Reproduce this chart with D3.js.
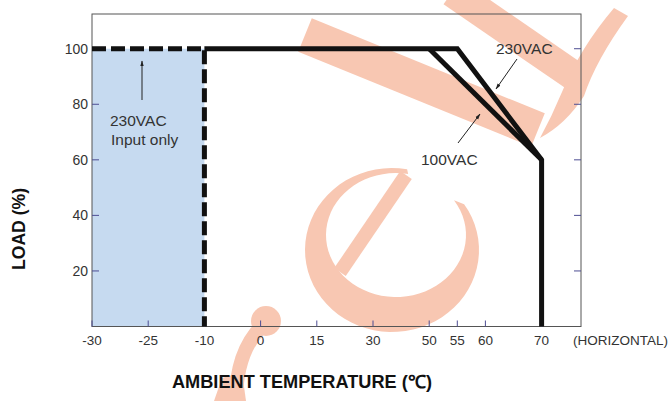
<!DOCTYPE html>
<html>
<head>
<meta charset="utf-8">
<script src="https://cdn.jsdelivr.net/npm/d3@7"></script>
<style>
  html, body { margin: 0; padding: 0; background: #fff; }
  svg { display: block; font-family: "Liberation Sans", Arial, sans-serif; }
</style>
</head>
<body>
<div id="chart"></div>
<script>
"use strict";

/* Derating curve data: load (%) vs ambient temperature (C) */

// x axis is not linear: each tick gets the same spacing, 55 sits between 50 and 60
const xTicks = [-30, -25, -10, 0, 15, 30, 50, 55, 60, 70];
const xSteps = [-30, -25, -10, 0, 15, 30, 50, 60, 70];
const yTicks = [20, 40, 60, 80, 100];

// curves as [temperature, load]
const curve230 = [[-10, 100], [55, 100], [70, 60], [70, 0]];
const curve100 = [[50, 100], [70, 60]];
const curveLowTemp = [[-30, 100], [-10, 100], [-10, 0]];  // 230VAC input only
const lowTempZone = [-30, -10];

const width = 670, height = 401;
const frame = { left: 92, top: 14, right: 581, bottom: 326.5 };

const svg = d3.select("#chart")
  .append("svg")
  .attr("width", width)
  .attr("height", height);

const x = d3.scaleLinear()
  .domain(xSteps)
  .range(xSteps.map((d, i) => frame.left + i * 56.2));

const y = d3.scaleLinear()
  .domain([0, 112.5])
  .range([frame.bottom, frame.top]);

const line = d3.line()
  .x(d => x(d[0]))
  .y(d => y(d[1]));

/* shaded low temperature area */
svg.append("rect")
  .attr("x", x(lowTempZone[0]))
  .attr("y", y(100))
  .attr("width", x(lowTempZone[1]) - x(lowTempZone[0]))
  .attr("height", y(0) - y(100))
  .attr("fill", "#c6daf0");

/* watermark (decoration only) */
const wmColor = "#f8c7b2";
const wm = svg.append("g").attr("fill", wmColor).attr("stroke", wmColor);

// letter "e": crescent bowl + slanted bar
function ellPts(cx, cy, rx, ry, a0, a1) {
  return d3.range(0, 61).map(i => {
    const a = (a0 + (a1 - a0) * i / 60) * Math.PI / 180;
    return [cx + rx * Math.cos(a), cy + ry * Math.sin(a)];
  });
}
const outer = ellPts(392, 250, 87, 82, -80, -394);
const inner = ellPts(396, 235, 70, 62, -394, -80);
wm.append("path")
  .attr("stroke", "none")
  .attr("d", d3.line()(outer.concat(inner)) + "Z");
wm.append("line")
  .attr("x1", 340).attr("y1", 272).attr("x2", 406).attr("y2", 175)
  .attr("stroke-width", 14);

// long slanted swash and the loop at upper right
wm.append("line")
  .attr("x1", 305).attr("y1", 35).attr("x2", 538).attr("y2", 130)
  .attr("stroke-width", 36);
wm.append("line")
  .attr("x1", 452).attr("y1", -8).attr("x2", 580).attr("y2", 80)
  .attr("stroke-width", 30);
wm.append("path")
  .attr("stroke", "none")
  .attr("d", "M614,8 L628,16 Q596,60 584,96 Q566,124 540,138 Q552,116 562,92 Q580,48 614,8 Z");

// curl at bottom
wm.append("circle").attr("cx", 266).attr("cy", 321).attr("r", 15).attr("stroke", "none");
wm.append("path")
  .attr("fill", "none")
  .attr("stroke-width", 14)
  .attr("d", "M262,326 Q236,352 236,401");
wm.append("path")
  .attr("stroke", "none")
  .attr("d", "M222,378 L242,372 L246,401 L214,401 Z");

/* frame */
svg.append("rect")
  .attr("x", frame.left)
  .attr("y", frame.top)
  .attr("width", frame.right - frame.left)
  .attr("height", frame.bottom - frame.top)
  .attr("fill", "none")
  .attr("stroke", "#555")
  .attr("stroke-width", 1);

/* ticks (inward) and labels */
const tickColor = "#4d4d92";

svg.append("g")
  .selectAll("line")
  .data(yTicks)
  .join("line")
  .attr("x1", frame.left).attr("x2", frame.left + 7)
  .attr("y1", d => y(d)).attr("y2", d => y(d))
  .attr("stroke", tickColor);

svg.append("g")
  .selectAll("line")
  .data(yTicks)
  .join("line")
  .attr("x1", frame.right - 7).attr("x2", frame.right)
  .attr("y1", d => y(d)).attr("y2", d => y(d))
  .attr("stroke", tickColor);

svg.append("g")
  .selectAll("text")
  .data(yTicks)
  .join("text")
  .attr("x", frame.left - 4)
  .attr("y", d => y(d))
  .attr("dy", "0.35em")
  .attr("text-anchor", "end")
  .attr("font-size", 14)
  .attr("fill", "#333")
  .text(d => d);

svg.append("g")
  .selectAll("line")
  .data(xTicks)
  .join("line")
  .attr("x1", d => x(d)).attr("x2", d => x(d))
  .attr("y1", frame.bottom).attr("y2", frame.bottom - 6)
  .attr("stroke", tickColor);

svg.append("g")
  .selectAll("text")
  .data(xTicks)
  .join("text")
  .attr("x", d => x(d))
  .attr("y", 345)
  .attr("text-anchor", "middle")
  .attr("font-size", 13.5)
  .attr("fill", "#333")
  .text(d => d);

svg.append("text")
  .attr("x", 573)
  .attr("y", 345)
  .attr("font-size", 13.5)
  .attr("fill", "#333")
  .attr("textLength", 95)
  .text("(HORIZONTAL)");

/* curves */
svg.append("path")
  .attr("d", line(curveLowTemp))
  .attr("fill", "none")
  .attr("stroke", "#111")
  .attr("stroke-width", 5)
  .attr("stroke-dasharray", "14,5");

svg.append("path")
  .attr("d", line(curve100))
  .attr("fill", "none")
  .attr("stroke", "#111")
  .attr("stroke-width", 5)
  .attr("stroke-linejoin", "miter");

svg.append("path")
  .attr("d", line(curve230))
  .attr("fill", "none")
  .attr("stroke", "#111")
  .attr("stroke-width", 5)
  .attr("stroke-linejoin", "miter");

/* annotations */
svg.append("defs").append("marker")
  .attr("id", "arrow")
  .attr("viewBox", "0 0 10 10")
  .attr("refX", 9).attr("refY", 5)
  .attr("markerWidth", 6).attr("markerHeight", 6)
  .attr("markerUnits", "userSpaceOnUse")
  .attr("orient", "auto")
  .append("path")
  .attr("d", "M0,2 L10,5 L0,8 Z")
  .attr("fill", "#222");

const notes = [
  { from: [142, 100], to: [142, 61] },
  { from: [517, 59], to: [496, 89] },
  { from: [458, 143], to: [480, 114] }
];
svg.append("g")
  .selectAll("line")
  .data(notes)
  .join("line")
  .attr("x1", d => d.from[0]).attr("y1", d => d.from[1])
  .attr("x2", d => d.to[0]).attr("y2", d => d.to[1])
  .attr("stroke", "#222")
  .attr("stroke-width", 1)
  .attr("marker-end", "url(#arrow)");

const noteText = [
  { t: "230VAC", x: 110, y: 126 },
  { t: "Input only", x: 111, y: 145 },
  { t: "230VAC", x: 496, y: 54 },
  { t: "100VAC", x: 421, y: 165 }
];
svg.append("g")
  .selectAll("text")
  .data(noteText)
  .join("text")
  .attr("x", d => d.x)
  .attr("y", d => d.y)
  .attr("font-size", 15.5)
  .attr("fill", "#333")
  .text(d => d.t);

/* axis titles */
svg.append("text")
  .attr("x", 302)
  .attr("y", 388)
  .attr("text-anchor", "middle")
  .attr("font-size", 18)
  .attr("font-weight", "bold")
  .attr("fill", "#111")
  .attr("textLength", 260)
  .attr("lengthAdjust", "spacingAndGlyphs")
  .text("AMBIENT TEMPERATURE (℃)");

svg.append("text")
  .attr("transform", "translate(25,229) rotate(-90)")
  .attr("text-anchor", "middle")
  .attr("font-size", 18)
  .attr("font-weight", "bold")
  .attr("fill", "#111")
  .attr("textLength", 82)
  .attr("lengthAdjust", "spacingAndGlyphs")
  .text("LOAD (%)");
</script>
</body>
</html>
